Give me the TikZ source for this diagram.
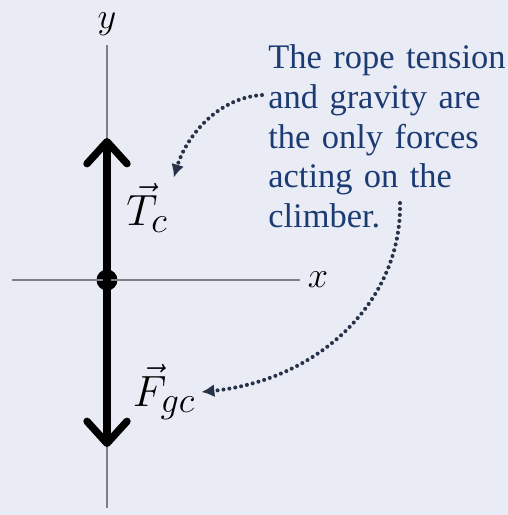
\documentclass[tikz,border=0pt]{standalone}
\usepackage{fontspec}
\setmainfont{Liberation Serif}
\usepackage{xcolor}
\usepackage{tikz}
\usetikzlibrary{positioning, arrows.meta}

\definecolor{bgcol}{HTML}{E9EBF5}
\definecolor{axisgray}{HTML}{7F7F84}
\definecolor{notenavy}{HTML}{1B3B72}
\definecolor{dotnavy}{HTML}{263248}

\begin{document}
\begin{tikzpicture}[
      x=0.02cm, y=-0.02cm,
      axis/.style={draw=axisgray, line width=1.1pt},
      force/.style={line width=4.2pt, -{Straight Barb[length=4.4mm, width=8mm, round]}},
      hint/.style={draw=dotnavy, line width=2.3pt, line cap=round, dash pattern=on 0pt off 3.4pt,
        -{Latex[length=2.6mm, width=2.6mm]}},
      lbl/.style={font=\fontsize{28}{30}\selectfont},
      axlbl/.style={font=\fontsize{22}{24}\selectfont},
      note/.style={text=notenavy, align=left, text width=5cm, inner sep=0pt,
        font=\fontsize{19.6}{22.7}\selectfont}
    ]
    \path[fill=bgcol, use as bounding box] (0,0) rectangle (508,515);

    % Nodes
    \coordinate (ytop) at (107,45);
    \coordinate (ybot) at (107,508);
    \coordinate (xleft) at (12,280);
    \coordinate (xright) at (300,280);
    \node[axlbl] (ylab) at (107,24) {$y$};
    \node[axlbl] (xlab) at (318,280) {$x$};

    \node[circle, fill, inner sep=0pt, minimum size=0.42cm] (obj) at (107,280) {};
    \coordinate (tctip) at (107,138);
    \coordinate (fgtip) at (107,447);

    \node[lbl] (tclab) at (147,208) {$\vec{T}_{c}$};
    \node[lbl] (fglab) at (164,392) {$\vec{F}_{gc}$};

    \node[note, anchor=north west] (note) at (268,44)
      {The rope tension\\and gravity are\\the only forces\\acting on the\\climber.};
    \coordinate (hinta) at (262,95);
    \coordinate (hintb) at (400,203);

    % Edges
    \draw[axis] (ybot) -- (ytop);
    \draw[axis] (xleft) -- (xright);
    \draw[force] (obj.center) -- (tctip);
    \draw[force] (obj.center) -- (fgtip);
    \draw[hint] (hinta) .. controls (215,98) and (185,140) .. (tclab.north east);
    \draw[hint] (hintb) .. controls (402,300) and (320,380) .. (fglab.east);
  \end{tikzpicture}
\end{document}
